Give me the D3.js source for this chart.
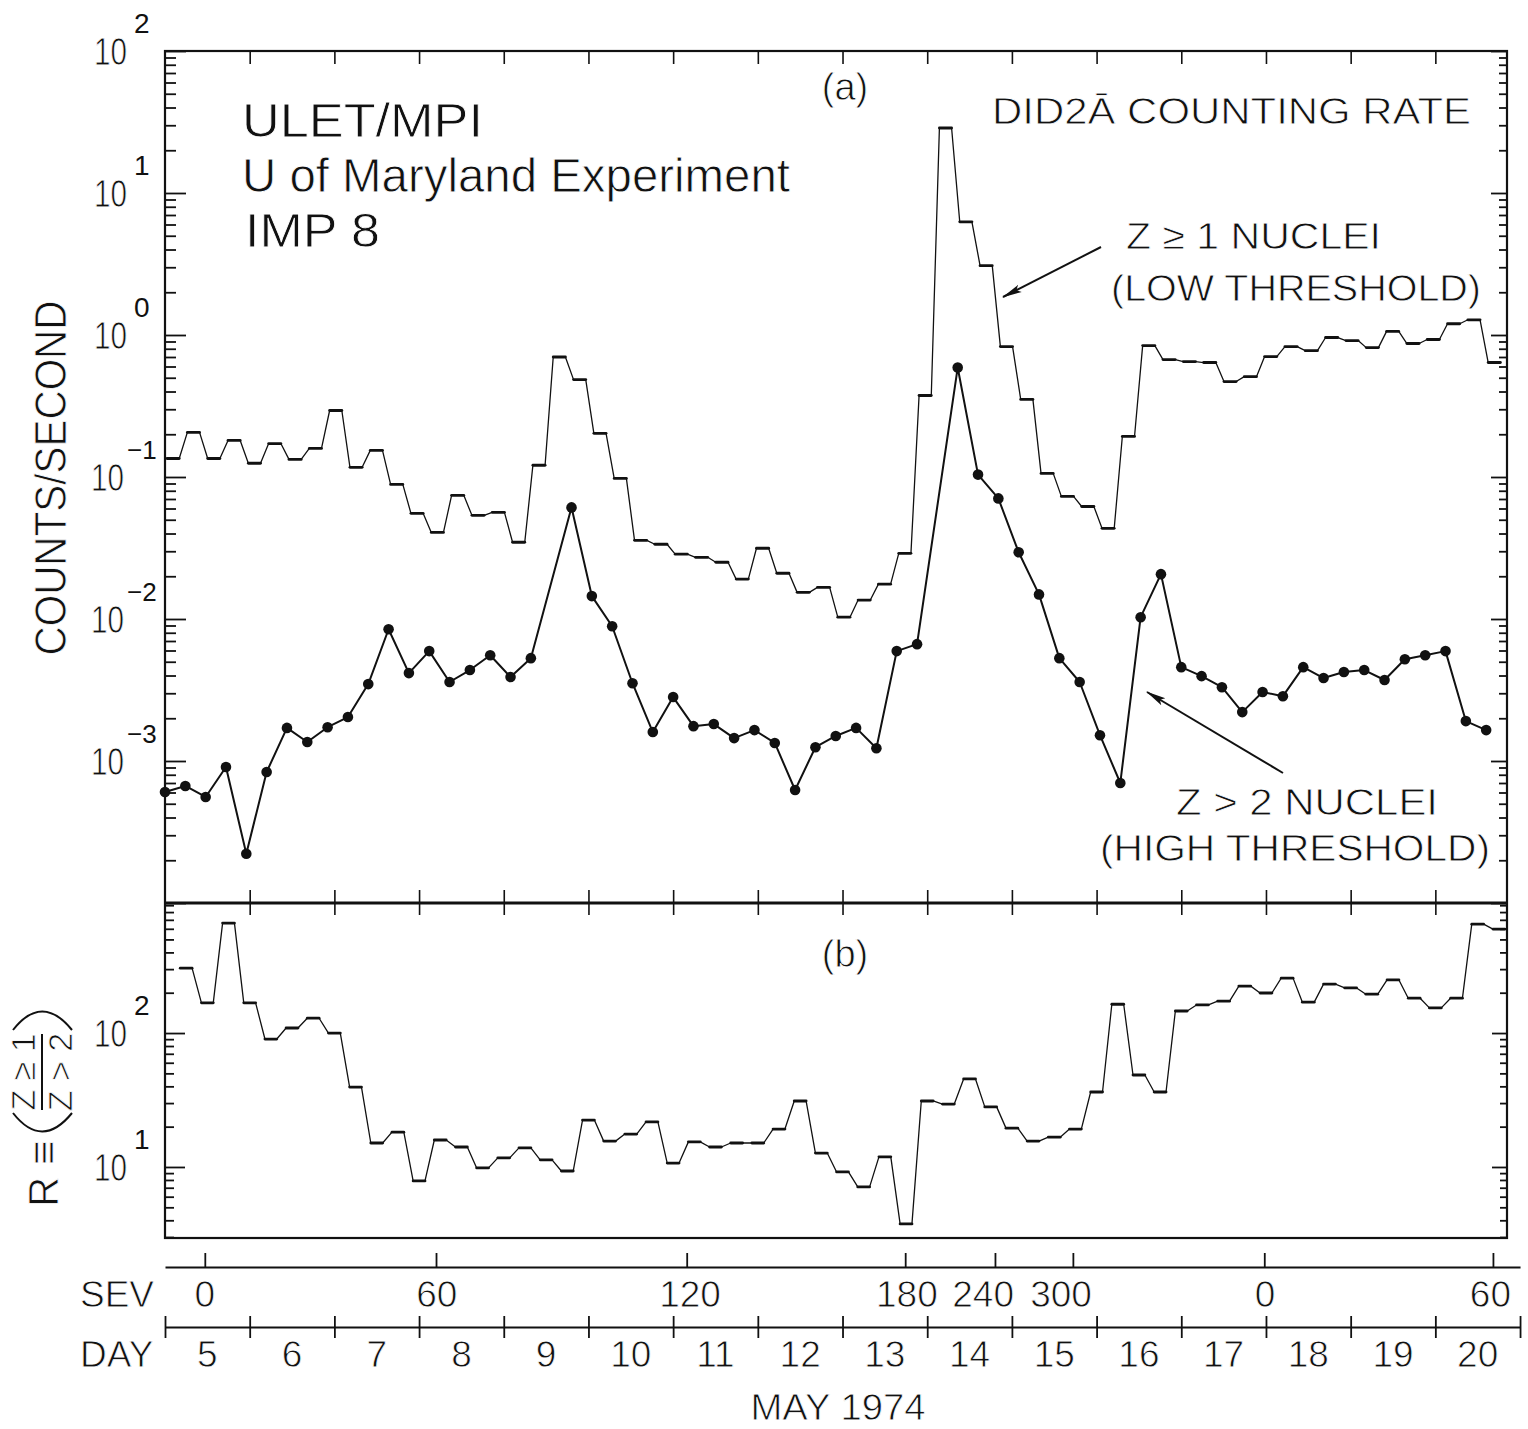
<!DOCTYPE html>
<html>
<head>
<meta charset="utf-8">
<script src="https://cdn.jsdelivr.net/npm/d3@7"></script>
<style>
  body { margin: 0; background: #fff; }
  svg text { font-family: "Liberation Sans", Arial, sans-serif; fill: #111; stroke: #fff; stroke-width: 0.8px; }
  svg text.sup { stroke: none; }
</style>
</head>
<body>
<div id="chart"></div>
<script>
// Step 1: layout
const W = 1528, H = 1429;
const box = { left: 165, right: 1507, top: 51, mid: 903, bottom: 1238 };

const svg = d3.select("#chart")
    .append("svg")
    .attr("width", W)
    .attr("height", H)
    .style("background", "#fff");

// Step 2: data
const startDay = 5;
const sampleStep = 0.24;   // days between the plotted samples
const ratioStep = 0.25;    // ratio panel uses 6-hour steps
const ratioStart = 5.25;

// Z >= 1 nuclei, low threshold (counts/s)
const lowThreshold = [
    0.135, 0.206, 0.135, 0.181, 0.125, 0.172, 0.133, 0.159, 0.294, 0.117,
    0.154, 0.0887, 0.0555, 0.0407, 0.0743, 0.0537, 0.0564, 0.0347, 0.121, 0.70,
    0.485, 0.203, 0.0977, 0.0358, 0.0336, 0.0286, 0.0272, 0.0251, 0.0191, 0.0315,
    0.021, 0.0154, 0.0167, 0.0103, 0.0136, 0.0176, 0.029, 0.375, 28.7, 6.27,
    3.08, 0.829, 0.352, 0.106, 0.073, 0.062, 0.0435, 0.193, 0.842, 0.671,
    0.65, 0.64, 0.47, 0.509, 0.705, 0.829, 0.776, 0.96, 0.914, 0.815,
    1.06, 0.871, 0.93, 1.20, 1.28, 0.64
];

// Z > 2 nuclei, high threshold (counts/s); null = no point plotted
const highThreshold = [
    6.05e-4, 6.67e-4, 5.58e-4, 9.08e-4, 2.22e-4, 8.37e-4, 1.71e-3, 1.36e-3, 1.73e-3, 2.04e-3,
    3.48e-3, 8.47e-3, 4.16e-3, 5.94e-3, 3.60e-3, 4.37e-3, 5.56e-3, 3.90e-3, 5.30e-3, null,
    0.0611, 0.0145, 8.89e-3, 3.53e-3, 1.60e-3, 2.82e-3, 1.76e-3, 1.82e-3, 1.45e-3, 1.65e-3,
    1.34e-3, 6.25e-4, 1.25e-3, 1.50e-3, 1.71e-3, 1.23e-3, 5.94e-3, 6.65e-3, null, 0.590,
    0.104, 0.0707, 0.0295, 0.0149, 5.30e-3, 3.60e-3, 1.52e-3, 7.0e-4, 0.0103, 0.0207,
    4.58e-3, 3.96e-3, 3.31e-3, 2.21e-3, 3.06e-3, 2.86e-3, 4.58e-3, 3.84e-3, 4.23e-3, 4.37e-3,
    3.72e-3, 5.21e-3, 5.56e-3, 5.94e-3, 1.91e-3, 1.65e-3
];

// R = (Z>=1)/(Z>2)
const ratio = [
    305, 168, 662, 168, 90.2, 109, 129, 100, 39.5, 15.1,
    18.2, 7.87, 15.9, 14.1, 9.84, 11.7, 13.9, 11.3, 9.33, 22.4,
    15.6, 17.6, 21.7, 10.7, 15.4, 14.1, 15.1, 15.1, 19.2, 31.1,
    12.7, 9.18, 7.10, 11.9, 3.76, 31.1, 29.5, 45.4, 28.1, 19.5,
    15.6, 16.7, 19.2, 36.3, 164, 48.6, 36.3, 146, 162, 173,
    224, 199, 257, 170, 232, 217, 195, 249, 182, 154,
    182, 650, 597
];

const dayLabels = [5, 6, 7, 8, 9, 10, 11, 12, 13, 14, 15, 16, 17, 18, 19, 20];
const dayBounds = [5, 6, 7, 8, 9, 10, 11, 12, 13, 14, 15, 16, 17, 18, 19, 20, 21];
const sevTickDay = [5.47, 8.20, 11.16, 13.74, 14.80, 15.72, 17.98, 20.68];
const sevLabelDay = [5.47, 8.21, 11.20, 13.76, 14.66, 15.58, 17.99, 20.65];
const sevLabels = ["0", "60", "120", "180", "240", "300", "0", "60"];
const expA = [2, 1, 0, -1, -2, -3];
const expB = [2, 1];

// Step 3: scales
const x = d3.scaleLinear().domain([5, 21]).range([box.left, box.left + 16 * 84.69]);
const yA = d3.scaleLog().domain([1e-4, 1e2]).range([box.mid, box.top]);
const yB = d3.scaleLog().domain([2.95, 935]).range([box.bottom, box.mid]);

const ink = "#111";

// Step 4: axes and frames
function logTicks(scale) {
    const all = scale.ticks();
    const isMajor = v => Math.abs(Math.log10(v) - Math.round(Math.log10(v))) < 1e-6;
    return { major: all.filter(isMajor), minor: all.filter(v => !isMajor(v)) };
}

function yAxes(scale, majorLeft, minorLeft, majorRight, minorRight) {
    const t = logTicks(scale);
    const g = svg.append("g");
    const strip = sel => sel.call(s => s.select(".domain").remove())
        .call(s => s.selectAll("line").attr("stroke", ink).attr("stroke-width", 1.8));
    g.append("g").attr("transform", `translate(${box.left},0)`)
        .call(d3.axisLeft(scale).tickValues(t.minor).tickSize(-minorLeft).tickFormat("")).call(strip);
    g.append("g").attr("transform", `translate(${box.left},0)`)
        .call(d3.axisLeft(scale).tickValues(t.major).tickSize(-majorLeft).tickFormat("")).call(strip);
    g.append("g").attr("transform", `translate(${box.right},0)`)
        .call(d3.axisRight(scale).tickValues(t.minor).tickSize(-minorRight).tickFormat("")).call(strip);
    g.append("g").attr("transform", `translate(${box.right},0)`)
        .call(d3.axisRight(scale).tickValues(t.major).tickSize(-majorRight).tickFormat("")).call(strip);
}

yAxes(yA, 21, 11, 16, 8);
yAxes(yB, 20, 9, 15, 7);

const innerBounds = dayBounds.filter(d => x(d) > box.left + 2 && x(d) < box.right - 2);
const stripX = sel => sel.call(s => s.select(".domain").remove())
    .call(s => s.selectAll("line").attr("stroke", ink).attr("stroke-width", 1.6));

svg.append("g").attr("transform", `translate(0,${box.top})`)
    .call(d3.axisTop(x).tickValues(innerBounds).tickSize(-13).tickFormat("")).call(stripX);
svg.append("g").attr("transform", `translate(0,${box.mid})`)
    .call(d3.axisTop(x).tickValues(innerBounds).tickSize(13).tickFormat("")).call(stripX);
svg.append("g").attr("transform", `translate(0,${box.mid})`)
    .call(d3.axisBottom(x).tickValues(innerBounds).tickSize(12).tickFormat("")).call(stripX);

// frames
svg.append("rect")
    .attr("x", box.left).attr("y", box.top)
    .attr("width", box.right - box.left).attr("height", box.bottom - box.top)
    .attr("fill", "none").attr("stroke", ink).attr("stroke-width", 2.2);
svg.append("line")
    .attr("x1", box.left).attr("x2", box.right)
    .attr("y1", box.mid).attr("y2", box.mid)
    .attr("stroke", ink).attr("stroke-width", 3.2);

// y tick labels (10 with a raised exponent)
function yLabels(scale, exps) {
    const g = svg.append("g");
    exps.forEach(e => {
        const yy = scale(Math.pow(10, e));
        const neg = e < 0;
        g.append("text").attr("x", neg ? 124 : 127).attr("y", yy + 14)
            .attr("text-anchor", "end").attr("font-size", 39)
            .attr("textLength", 33).attr("lengthAdjust", "spacingAndGlyphs")
            .text("10");
        g.append("text").attr("class", "sup")
            .attr("x", neg ? 127 : 134).attr("y", yy - 18)
            .attr("text-anchor", "start").attr("font-size", neg ? 26 : 28)
            .text(neg ? "\u2212" + Math.abs(e) : String(e));
    });
}
yLabels(yA, expA);
yLabels(yB, expB);

// Step 5: series
function plateauPoints(values, t0, step, a, b) {
    const pts = [];
    values.forEach((v, i) => {
        if (v == null) return;
        const t = t0 + i * step;
        pts.push([t + a * step, v], [t + b * step, v]);
    });
    return pts;
}

function drawStepSeries(values, t0, step, a, b, yScale) {
    const pts = plateauPoints(values, t0, step, a, b);
    const line = d3.line().x(d => x(d[0])).y(d => yScale(d[1]));
    svg.append("path")
        .datum(pts)
        .attr("d", line)
        .attr("fill", "none")
        .attr("stroke", ink)
        .attr("stroke-width", 1.3)
        .attr("stroke-linejoin", "round");
    const flats = d3.range(0, pts.length, 2).map(i => [pts[i], pts[i + 1]]);
    svg.append("g").selectAll("line")
        .data(flats)
        .join("line")
        .attr("x1", d => x(d[0][0])).attr("x2", d => x(d[1][0]))
        .attr("y1", d => yScale(d[0][1])).attr("y2", d => yScale(d[1][1]))
        .attr("stroke", ink)
        .attr("stroke-width", 2.8)
        .attr("stroke-linecap", "round");
}

drawStepSeries(lowThreshold, startDay, sampleStep, 0.1, 0.7, yA);
drawStepSeries(ratio, ratioStart, ratioStep, -0.28, 0.28, yB);

const highPts = highThreshold
    .map((v, k) => ({ t: startDay + k * sampleStep, v }))
    .filter(d => d.v != null);

svg.append("path")
    .datum(highPts)
    .attr("d", d3.line().x(d => x(d.t)).y(d => yA(d.v)))
    .attr("fill", "none")
    .attr("stroke", ink)
    .attr("stroke-width", 2)
    .attr("stroke-linejoin", "round");

svg.append("g").selectAll("circle")
    .data(highPts)
    .join("circle")
    .attr("cx", d => x(d.t))
    .attr("cy", d => yA(d.v))
    .attr("r", 5.3)
    .attr("fill", ink);

// Step 6: annotations
function label(txt, xx, yy, size, len, anchor) {
    const t = svg.append("text")
        .attr("x", xx).attr("y", yy)
        .attr("font-size", size)
        .attr("text-anchor", anchor || "start")
        .text(txt);
    if (len) t.attr("textLength", len).attr("lengthAdjust", "spacingAndGlyphs");
    return t;
}

label("ULET/MPI", 242, 137, 48, 241);
label("U of Maryland Experiment", 242, 192, 48, 548);
label("IMP 8", 245, 247, 48, 135);
label("(a)", 845, 100, 38, null, "middle");
label("(b)", 845, 967, 38, null, "middle");
label("DID2\u0100 COUNTING RATE", 992, 124, 36, 479);
label("Z \u2265 1 NUCLEI", 1126, 249, 37, 255);
label("(LOW THRESHOLD)", 1111, 301, 37, 370);
label("Z > 2 NUCLEI", 1176, 815, 37, 262);
label("(HIGH THRESHOLD)", 1100, 861, 37, 390);

const defs = svg.append("defs");
defs.append("marker")
    .attr("id", "head")
    .attr("viewBox", "0 0 20 10")
    .attr("refX", 19).attr("refY", 5)
    .attr("markerWidth", 20).attr("markerHeight", 10)
    .attr("markerUnits", "userSpaceOnUse")
    .attr("orient", "auto")
    .append("path")
    .attr("d", "M0,1 L20,5 L0,9 L4,5 Z")
    .attr("fill", ink);

svg.append("line")
    .attr("x1", 1101).attr("y1", 247).attr("x2", 1003).attr("y2", 297)
    .attr("stroke", ink).attr("stroke-width", 2).attr("marker-end", "url(#head)");
svg.append("line")
    .attr("x1", 1283).attr("y1", 773).attr("x2", 1147).attr("y2", 692)
    .attr("stroke", ink).attr("stroke-width", 2).attr("marker-end", "url(#head)");

// y titles
svg.append("text")
    .attr("transform", "translate(66,478) rotate(-90)")
    .attr("text-anchor", "middle")
    .attr("font-size", 44)
    .attr("textLength", 355).attr("lengthAdjust", "spacingAndGlyphs")
    .text("COUNTS/SECOND");

const rt = svg.append("g").attr("transform", "translate(50,1110) rotate(-90)");
rt.append("text").attr("x", -97).attr("y", 8).attr("font-size", 42).text("R \u2261");
rt.append("path").attr("d", "M-3,-37 Q-40,-8 -3,22")
    .attr("fill", "none").attr("stroke", ink).attr("stroke-width", 2);
rt.append("path").attr("d", "M80,-37 Q117,-8 80,22")
    .attr("fill", "none").attr("stroke", ink).attr("stroke-width", 2);
rt.append("text").attr("x", 38).attr("y", -15).attr("font-size", 34)
    .attr("text-anchor", "middle").text("Z \u2265 1");
rt.append("text").attr("x", 38).attr("y", 22).attr("font-size", 34)
    .attr("text-anchor", "middle").text("Z > 2");
rt.append("line").attr("x1", 0).attr("x2", 76).attr("y1", -8).attr("y2", -8)
    .attr("stroke", ink).attr("stroke-width", 2);

// Step 7: SEV and DAY scales under the plot
const ySev = 1267, yDay = 1327;
svg.append("g").attr("transform", `translate(0,${ySev})`)
    .call(d3.axisTop(x).tickValues(sevTickDay).tickSize(14).tickSizeOuter(0).tickFormat(""))
    .call(s => s.select(".domain").attr("stroke", ink).attr("stroke-width", 1.8))
    .call(s => s.selectAll(".tick line").attr("stroke", ink).attr("stroke-width", 1.8));

svg.append("g").selectAll("text")
    .data(sevLabels)
    .join("text")
    .attr("x", (d, i) => x(sevLabelDay[i]))
    .attr("y", 1307)
    .attr("text-anchor", "middle")
    .attr("font-size", 37)
    .text(d => d);

svg.append("g").attr("transform", `translate(0,${yDay})`)
    .call(d3.axisTop(x).tickValues(dayBounds).tickSize(11).tickSizeOuter(0).tickFormat(""))
    .call(s => s.select(".domain").attr("stroke", ink).attr("stroke-width", 1.8))
    .call(s => s.selectAll(".tick line").attr("stroke", ink).attr("stroke-width", 1.8));
svg.append("g").attr("transform", `translate(0,${yDay})`)
    .call(d3.axisBottom(x).tickValues(dayBounds).tickSize(11).tickSizeOuter(0).tickFormat(""))
    .call(s => s.select(".domain").remove())
    .call(s => s.selectAll(".tick line").attr("stroke", ink).attr("stroke-width", 1.8));

svg.append("g").selectAll("text")
    .data(dayLabels)
    .join("text")
    .attr("x", d => x(d + 0.5))
    .attr("y", 1367)
    .attr("text-anchor", "middle")
    .attr("font-size", 37)
    .text(d => d);

label("SEV", 80, 1307, 37);
label("DAY", 80, 1367, 37);
label("MAY 1974", 838, 1420, 37, 175, "middle");
</script>
</body>
</html>
